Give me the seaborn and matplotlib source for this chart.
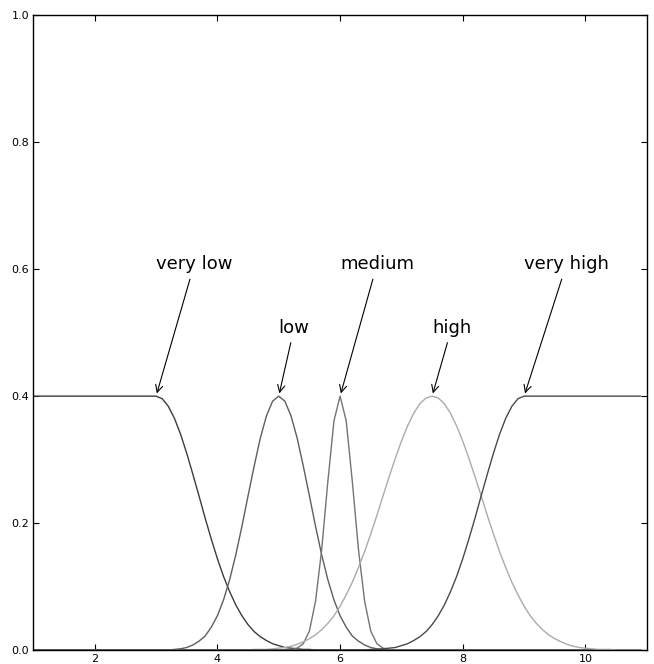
import numpy as np
import pandas as pd
import matplotlib
matplotlib.use("Agg")
import matplotlib.pyplot as plt
import seaborn as sns

# membership curves (x step 0.1, peak 0.4)
very_low_x = [1.0, 3.0, 3.1, 3.2, 3.3, 3.4, 3.5, 3.6, 3.7, 3.8, 3.9, 4.0,
              4.1, 4.2, 4.3, 4.4, 4.5, 4.6, 4.7, 4.8, 4.9, 5.0, 5.1, 5.2,
              5.3, 5.4, 5.5, 5.6, 10.9]
very_low_y = [0.4, 0.4, 0.396, 0.384, 0.365, 0.340, 0.310, 0.277, 0.243, 0.208,
              0.175, 0.144, 0.116, 0.092, 0.071, 0.054, 0.040, 0.029, 0.021,
              0.015, 0.010, 0.007, 0.004, 0.003, 0.002, 0.001, 0.001, 0.0, 0.0]

low_x = [1.0, 3.2, 3.3, 3.4, 3.5, 3.6, 3.7, 3.8, 3.9, 4.0, 4.1, 4.2, 4.3,
         4.4, 4.5, 4.6, 4.7, 4.8, 4.9, 5.0, 5.1, 5.2, 5.3, 5.4, 5.5, 5.6,
         5.7, 5.8, 5.9, 6.0, 6.1, 6.2, 6.3, 6.4, 6.5, 6.6, 6.7, 6.8, 10.9]
low_y = [0.0, 0.0, 0.001, 0.002, 0.004, 0.008, 0.014, 0.022, 0.036, 0.054,
         0.079, 0.111, 0.150, 0.195, 0.243, 0.290, 0.334, 0.369, 0.392, 0.4,
         0.392, 0.369, 0.334, 0.290, 0.243, 0.195, 0.150, 0.111, 0.079, 0.054,
         0.036, 0.022, 0.014, 0.008, 0.004, 0.002, 0.001, 0.0, 0.0]

medium_x = [1.0, 5.1, 5.2, 5.3, 5.4, 5.5, 5.6, 5.7, 5.8, 5.9, 6.0, 6.1, 6.2,
            6.3, 6.4, 6.5, 6.6, 6.7, 6.8, 6.9, 10.9]
medium_y = [0.0, 0.0, 0.001, 0.003, 0.010, 0.030, 0.077, 0.158, 0.265, 0.361,
            0.4, 0.361, 0.265, 0.158, 0.077, 0.030, 0.010, 0.003, 0.001, 0.0, 0.0]

high_x = [1.0, 4.5, 4.6, 4.7, 4.8, 4.9, 5.0, 5.1, 5.2, 5.3, 5.4, 5.5, 5.6,
          5.7, 5.8, 5.9, 6.0, 6.1, 6.2, 6.3, 6.4, 6.5, 6.6, 6.7, 6.8, 6.9,
          7.0, 7.1, 7.2, 7.3, 7.4, 7.5, 7.6, 7.7, 7.8, 7.9, 8.0, 8.1, 8.2,
          8.3, 8.4, 8.5, 8.6, 8.7, 8.8, 8.9, 9.0, 9.1, 9.2, 9.3, 9.4, 9.5,
          9.6, 9.7, 9.8, 9.9, 10.0, 10.1, 10.2, 10.3, 10.4, 10.5, 10.9]
high_y = [0.0, 0.0, 0.001, 0.001, 0.001, 0.002, 0.003, 0.004, 0.006, 0.009,
          0.013, 0.018, 0.024, 0.032, 0.042, 0.054, 0.069, 0.087, 0.107, 0.130,
          0.155, 0.183, 0.212, 0.243, 0.273, 0.302, 0.329, 0.353, 0.373, 0.388,
          0.397, 0.4, 0.397, 0.388, 0.373, 0.353, 0.329, 0.302, 0.273, 0.243,
          0.212, 0.183, 0.155, 0.130, 0.107, 0.087, 0.069, 0.054, 0.042, 0.032,
          0.024, 0.018, 0.013, 0.009, 0.006, 0.004, 0.003, 0.002, 0.001, 0.001,
          0.001, 0.0, 0.0]

very_high_x = [1.0, 6.4, 6.5, 6.6, 6.7, 6.8, 6.9, 7.0, 7.1, 7.2, 7.3, 7.4,
               7.5, 7.6, 7.7, 7.8, 7.9, 8.0, 8.1, 8.2, 8.3, 8.4, 8.5, 8.6,
               8.7, 8.8, 8.9, 9.0, 10.9]
very_high_y = [0.0, 0.0, 0.001, 0.001, 0.002, 0.003, 0.004, 0.007, 0.010, 0.015,
               0.021, 0.029, 0.040, 0.054, 0.071, 0.092, 0.116, 0.144, 0.175,
               0.208, 0.243, 0.277, 0.310, 0.340, 0.365, 0.384, 0.396, 0.4, 0.4]

terms = ["very low", "low", "medium", "high", "very high"]
peak_x = [3.0, 5.0, 6.0, 7.5, 9.0]
label_y = [0.6, 0.5, 0.6, 0.5, 0.6]
line_colors = ["#3c3c3c", "#5e5e5e", "#747474", "#ababab", "#4a4a4a"]

curves = [(very_low_x, very_low_y), (low_x, low_y), (medium_x, medium_y),
          (high_x, high_y), (very_high_x, very_high_y)]
frames = []
for name, (xs, ys) in zip(terms, curves):
    frames.append(pd.DataFrame({"x": xs, "y": ys, "term": name}))
df = pd.concat(frames, ignore_index=True)

sns.set_style("ticks")
plt.rcParams["font.family"] = ["DejaVu Sans"]
plt.rcParams["xtick.direction"] = "in"
plt.rcParams["ytick.direction"] = "in"
plt.rcParams["text.color"] = "black"
plt.rcParams["xtick.color"] = "black"
plt.rcParams["ytick.color"] = "black"
plt.rcParams["xtick.labelcolor"] = "black"
plt.rcParams["ytick.labelcolor"] = "black"

fig = plt.figure(figsize=(6.54, 6.64), dpi=100)
ax = fig.add_axes([0.051, 0.021, 0.938, 0.956])

sns.lineplot(data=df, x="x", y="y", hue="term", palette=dict(zip(terms, line_colors)),
             estimator=None, sort=False, linewidth=1.0, legend=False, ax=ax)

for name, px, ly in zip(terms, peak_x, label_y):
    ax.annotate(name, xy=(px, 0.4), xytext=(px, ly), fontsize=13, color="black",
                arrowprops=dict(arrowstyle="->", color="black", linewidth=0.8))

ax.set_xlim(1, 11)
ax.set_ylim(0, 1.0)
ax.set_xticks([2, 4, 6, 8, 10])
ax.set_yticks([0.0, 0.2, 0.4, 0.6, 0.8, 1.0])
ax.set_xticklabels(["2", "4", "6", "8", "10"])
ax.set_yticklabels(["0.0", "0.2", "0.4", "0.6", "0.8", "1.0"])
ax.tick_params(axis="both", top=True, right=True, labelsize=8, length=4,
               width=0.8, colors="black", pad=3)
for sp in ax.spines.values():
    sp.set_color("black")
    sp.set_linewidth(1.0)
ax.set_xlabel("")
ax.set_ylabel("")

fig.savefig("out.png", dpi=100)
